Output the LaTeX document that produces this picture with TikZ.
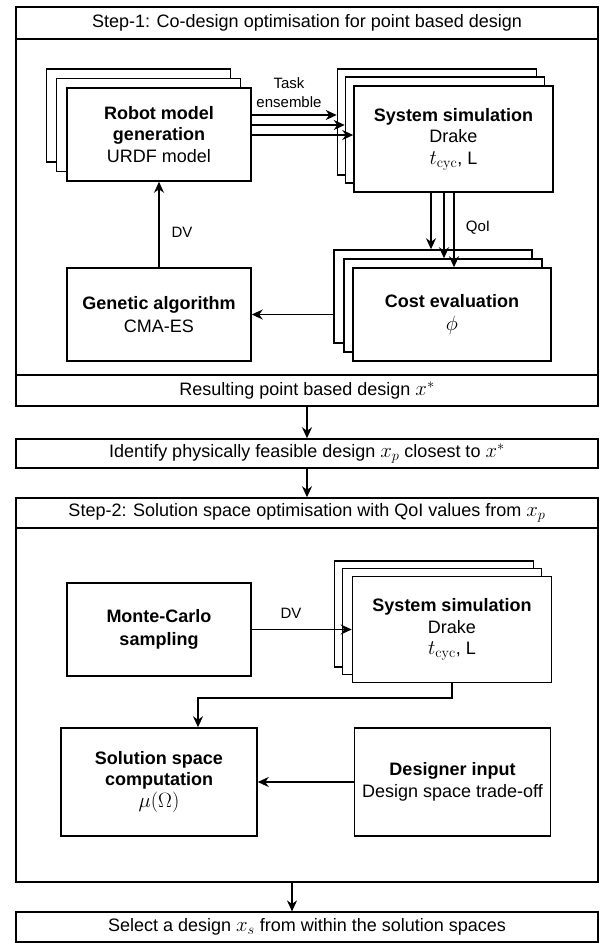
\documentclass[tikz,border=0pt]{standalone}
\usepackage[no-math]{fontspec}
\setmainfont{Liberation Sans}
\usetikzlibrary{arrows.meta,calc}
\newcommand{\mymath}[1]{{\fontsize{20.7}{21.5}\selectfont$#1$}}
\begin{document}
\begin{tikzpicture}[x=1pt,y=-1pt,
  box/.style={draw, line width=1.5pt, fill=white, inner sep=2pt, align=center,
    font=\fontsize{18}{21.5}\selectfont},
  arr/.style={line width=1.5pt, -{Stealth[length=11pt,width=10pt,inset=3.5pt]}},
  lbl/.style={font=\fontsize{15}{19}\selectfont, align=center, inner sep=0pt}]
\useasboundingbox (0,0) rectangle (602,943);

% ---------- Step 1 frame ----------
\node[box, minimum width=582pt, minimum height=32pt] (s1title) at (307,23)
  {Step-1: Co-design optimisation for point based design};
\node[box, minimum width=582pt, minimum height=336pt] (s1body) at (307,207) {};
\node[box, minimum width=582pt, minimum height=31pt] (s1foot) at (307,390.5)
  {Resulting point based design \mymath{x^{*}}};

% robot stack
\node[box, minimum width=184pt, minimum height=93pt] (robotA) at (138.5,115.5) {};
\node[box, minimum width=184pt, minimum height=93pt] (robotB) at (148.5,125) {};
\node[box, minimum width=184pt, minimum height=93pt] (robot) at (159,134.5)
  {\textbf{Robot model}\\\textbf{generation}\\URDF model};

% simulation stack
\node[box, minimum width=199pt, minimum height=106pt] (simA) at (437,122) {};
\node[box, minimum width=199pt, minimum height=106pt] (simB) at (445,130) {};
\node[box, minimum width=199pt, minimum height=106pt] (sim) at (453.5,139)
  {\textbf{System simulation}\\Drake\\\mymath{t_{\mathrm{cyc}}}, L};

% cost stack
\node[box, minimum width=198pt, minimum height=93pt] (costA) at (433,296.5) {};
\node[box, minimum width=198pt, minimum height=93pt] (costB) at (443,305.5) {};
\node[box, minimum width=198pt, minimum height=93pt] (cost) at (452,314.5)
  {\textbf{Cost evaluation}\\[2pt]\mymath{\phi}};

% genetic algorithm
\node[box, minimum width=184pt, minimum height=93pt] (ga) at (159,314.5)
  {\textbf{Genetic algorithm}\\[2pt]CMA-ES};

% connectors step 1
\coordinate (ya) at (0,115);
\coordinate (yb) at (0,125);
\coordinate (yc) at (0,135);
\draw[arr] (robot.east |- ya) -- (simA.west |- ya);
\draw[arr] (robot.east |- yb) -- (simB.west |- yb);
\draw[arr] (robot.east |- yc) -- (sim.west |- yc);
\node[lbl] (task) at (289,92.5) {Task\\ensemble};

\coordinate (xa) at (431,0);
\coordinate (xb) at (444,0);
\coordinate (xc) at (454,0);
\draw[arr] (sim.south -| xa) -- (costA.north -| xa);
\draw[arr] (sim.south -| xb) -- (costB.north -| xb);
\draw[arr] (sim.south -| xc) -- (cost.north -| xc);
\node[lbl] (qoi) at (478,228) {QoI};

\draw[arr] (ga.east -| costA.west) -- (ga.east);
\draw[arr] (ga.north) -- (robot.south);
\node[lbl] (dv1) at (182,232) {DV};

% ---------- middle ----------
\node[box, minimum width=582pt, minimum height=29pt] (ident) at (307,453.5)
  {Identify physically feasible design \mymath{x_p} closest to \mymath{x^{*}}};
\draw[arr] (s1foot.south) -- (ident.north);

% ---------- Step 2 frame ----------
\node[box, minimum width=582pt, minimum height=30pt] (s2title) at (307,513)
  {Step-2: Solution space optimisation with QoI values from \mymath{x_p}};
\node[box, minimum width=582pt, minimum height=354pt] (s2body) at (307,705) {};
\draw[arr] (ident.south) -- (s2title.north);

\node[box, minimum width=184pt, minimum height=93pt] (mc) at (159,629.5)
  {\textbf{Monte-Carlo}\\[2pt]\textbf{sampling}};

\node[box, minimum width=199pt, minimum height=106pt] (simA2) at (434,614) {};
\node[box, minimum width=199pt, minimum height=106pt] (simB2) at (442,621.5) {};
\node[box, minimum width=199pt, minimum height=106pt] (sim2) at (452,629.5)
  {\textbf{System simulation}\\Drake\\\mymath{t_{\mathrm{cyc}}}, L};

\draw[arr] (mc.east) -- (mc.east -| sim2.west);
\node[lbl] (dv2) at (291,613) {DV};

\node[box, minimum width=196pt, minimum height=108pt] (sol) at (159,782)
  {\textbf{Solution space}\\\textbf{computation}\\\mymath{\mu(\Omega)}};
\node[box, minimum width=196pt, minimum height=108pt] (des) at (452.5,782)
  {\textbf{Designer input}\\Design space trade-off};

\coordinate (elb) at (198,698);
\draw[arr] (sim2.south) |- (elb) -- (elb |- sol.north);
\draw[arr] (des.west) -- (sol.east);

% ---------- final ----------
\node[box, minimum width=582pt, minimum height=30pt] (sel) at (307,927.2)
  {Select a design \mymath{x_s} from within the solution spaces};
\coordinate (xs) at (292,0);
\draw[arr] (s2body.south -| xs) -- (sel.north -| xs);
\end{tikzpicture}
\end{document}
